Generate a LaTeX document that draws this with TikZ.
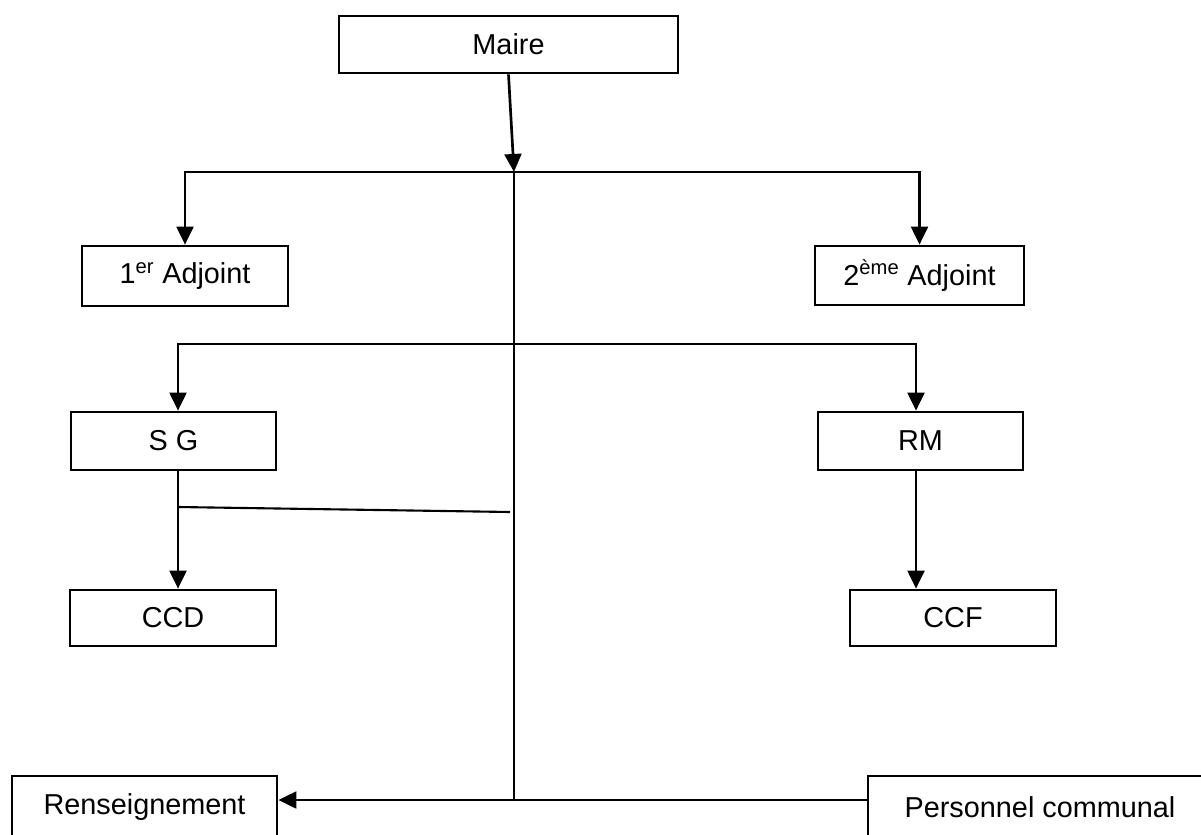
\documentclass[tikz,border=0pt]{standalone}
\usepackage{fontspec}
\setmainfont{Liberation Sans}
\usetikzlibrary{arrows.meta,positioning}

\begin{document}
\begin{tikzpicture}[x=0.025cm, y=-0.025cm, line width=1.9pt,
    arr/.style={-{Triangle[length=0.45cm,width=0.42cm]}}]
   \useasboundingbox (0,0) rectangle (1201,834);
   \clip (0,0) rectangle (1201,834);
   \begin{scope}[every node/.style={rectangle,draw=black,line width=1.9pt,inner sep=0pt,
       minimum height=1.45cm,font=\fontsize{20.5}{24}\selectfont}]
    \node (maire) at (508.5,44.5) [minimum width=8.475cm, minimum height=1.425cm] {Maire};
    \node (adj1) at (185,276) [minimum width=5.15cm, minimum height=1.5cm] {1\textsuperscript{er} Adjoint};
    \node (adj2) at (919.5,275.5) [minimum width=5.225cm, minimum height=1.475cm] {2\textsuperscript{ème} Adjoint};
    \node (sg) at (173.5,441) [minimum width=5.125cm] {S G};
    \node (rm) at (920.5,441) [minimum width=5.125cm] {RM};
    \node (ccd) at (173,618) [minimum width=5.15cm, minimum height=1.4cm] {CCD};
    \node (ccf) at (953,618) [minimum width=5.15cm, minimum height=1.4cm] {CCF};
    \node (rens) at (144.5,807) [minimum width=6.625cm, minimum height=1.55cm] {Renseignement};
    \node (pers) at (1040,807) [minimum width=8.6cm, minimum height=1.55cm] {Personnel communal};
   \end{scope}
   \coordinate (j1) at (514,172);
   \coordinate (j2) at (514,344);
   \coordinate (j3) at (514,800);
   \coordinate (k1) at (178,507);
   \coordinate (k2) at (510,512);
   \coordinate (c1) at (178,0);
   \coordinate (c2) at (916,0);
   \draw[arr] (maire.south) -- (j1);
   \draw[arr] (j1) -| (adj1.north);
   \draw[arr] (j1) -| (adj2.north);
   \draw (j1) -- (j3);
   \draw[arr] (j2) -| (c1 |- sg.north);
   \draw[arr] (j2) -| (c2 |- rm.north);
   \draw[arr] (c1 |- sg.south) -- (c1 |- ccd.north);
   \draw[arr] (c2 |- rm.south) -- (c2 |- ccf.north);
   \draw[line width=1.5pt] (k1) -- (k2);
   \draw[arr] (pers.west |- j3) -- (rens.east |- j3);
\end{tikzpicture}
\end{document}
